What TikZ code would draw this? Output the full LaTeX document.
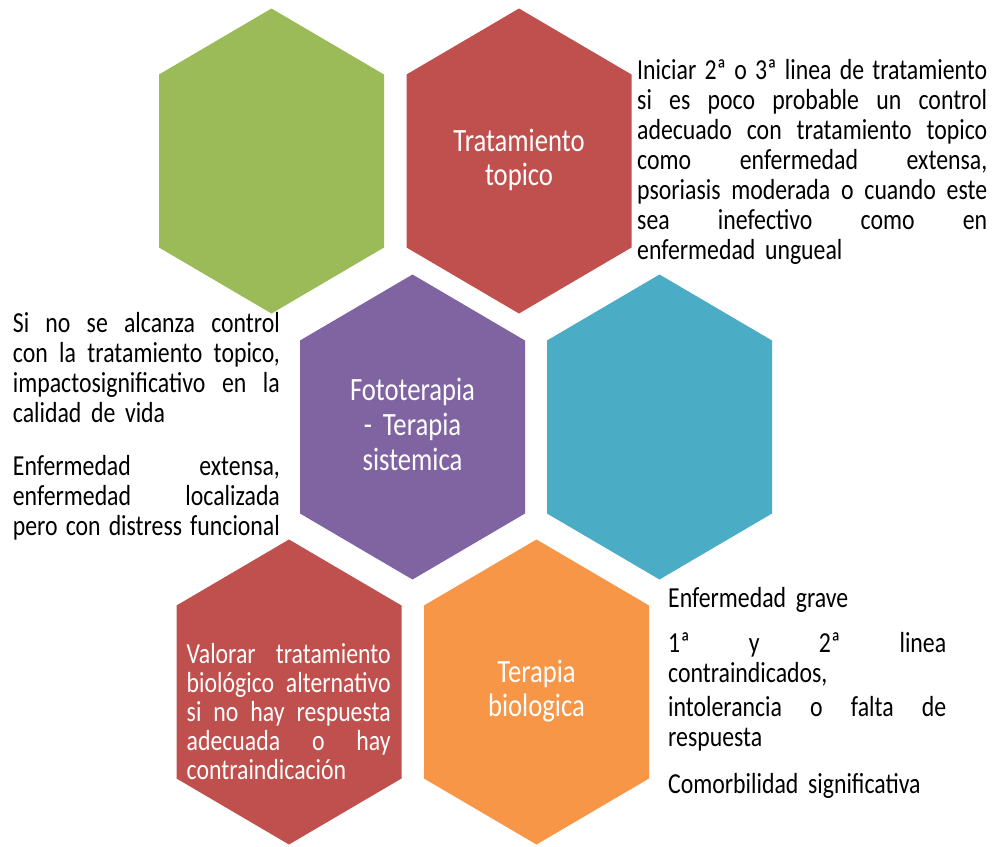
\documentclass[tikz,border=0pt]{standalone}
\usepackage{fontspec}
\setmainfont{Carlito}[FakeStretch=0.82]

\definecolor{hgreen}{HTML}{9BBB59}
\definecolor{hred}{HTML}{C0504D}
\definecolor{hpurple}{HTML}{8064A2}
\definecolor{haqua}{HTML}{4BACC6}
\definecolor{horange}{HTML}{F79646}

% justified line of a given width (in pt): the word spaces take up the slack
\newcommand\jline[2]{\leavevmode\hbox to #1pt{\spaceskip=0.2em plus 1fil minus 0.08em\relax #2}}

\tikzset{
  hexa/.pic={
    \path[pic actions] (0,-152.5) -- (112.5,-86.5) -- (112.5,86.5) -- (0,152.5)
      -- (-112.5,86.5) -- (-112.5,-86.5) -- cycle;
  },
  hextitle/.style={text=white, font=\fontsize{32.5}{34}\selectfont,
    align=center, text width=210pt, inner sep=0pt, anchor=base},
  hexbody/.style={text=white, font=\fontsize{29}{29}\selectfont,
    align=left, inner sep=0pt, anchor=base west},
  sidetext/.style={text=black, font=\fontsize{29}{30}\selectfont,
    align=left, inner sep=0pt, anchor=base west},
}

\begin{document}
\begin{tikzpicture}[x=1pt,y=-1pt]
  \useasboundingbox (0,0) rectangle (993,846);
  \fill[white] (0,0) rectangle (993,846);

  % honeycomb
  \pic (hg) [fill=hgreen]  at (271.5,161) {hexa};
  \pic (hr) [fill=hred]    at (519,161)   {hexa};
  \pic (hp) [fill=hpurple] at (412.5,427) {hexa};
  \pic (ha) [fill=haqua]   at (659.5,427) {hexa};
  \pic (hd) [fill=hred]    at (289,692)   {hexa};
  \pic (ho) [fill=horange] at (536.5,692) {hexa};

  % labels inside the cells
  \node[hextitle] (topico) at (519,151.7) {Tratamiento\\topico};
  \node[hextitle, font=\fontsize{32.5}{35}\selectfont] (foto) at (412.5,400.7)
    {Fototerapia\\- Terapia\\sistemica};
  \node[hextitle] (biol) at (536.5,682.7) {Terapia\\biologica};
  \node[hexbody, text width=204pt] (valorar) at (186.5,663) {%
    \jline{204}{Valorar tratamiento}\\
    \jline{204}{biológico alternativo}\\
    \jline{204}{si no hay respuesta}\\
    \jline{204}{adecuada o hay}\\
    contraindicación};

  % notes beside the cells
  \node[sidetext, text width=350pt] (notaTop) at (637,79) {%
    \jline{350}{Iniciar 2ª o 3ª linea de tratamiento}\\
    \jline{350}{si es poco probable un control}\\
    \jline{350}{adecuado con tratamiento topico}\\
    \jline{350}{como enfermedad extensa,}\\
    \jline{350}{psoriasis moderada o cuando este}\\
    \jline{350}{sea inefectivo como en}\\
    enfermedad ungueal};

  \node[sidetext, text width=267pt] (notaIzqA) at (12.7,332.5) {%
    \jline{267}{Si no se alcanza control}\\
    \jline{267}{con la tratamiento topico,}\\
    \jline{267}{impactosignificativo en la}\\
    calidad de vida};
  \node[sidetext, text width=267pt] (notaIzqB) at (12.7,475) {%
    \jline{267}{Enfermedad extensa,}\\
    \jline{267}{enfermedad localizada}\\
    \jline{267}{pero con distress funcional}};

  \node[sidetext, text width=278pt] (notaBioA) at (668,607) {Enfermedad grave};
  \node[sidetext, text width=278pt] (notaBioB) at (668,652) {%
    \jline{278}{1ª y 2ª linea}\\
    contraindicados,};
  \node[sidetext, text width=278pt] (notaBioC) at (668,716) {%
    \jline{278}{intolerancia o falta de}\\
    respuesta};
  \node[sidetext, text width=278pt] (notaBioD) at (668,793) {Comorbilidad significativa};
\end{tikzpicture}
\end{document}
